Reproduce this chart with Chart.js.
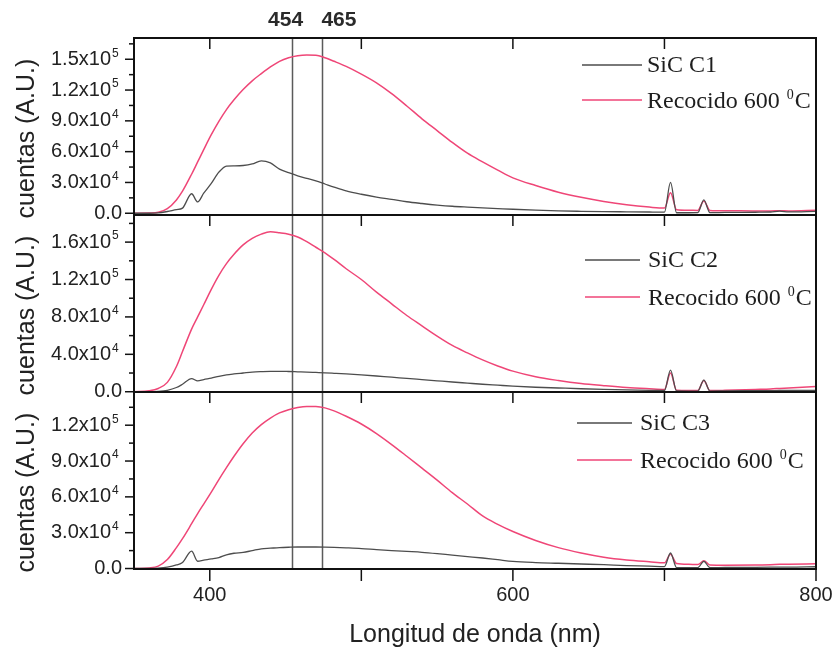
<!DOCTYPE html>
<html><head><meta charset="utf-8">
<script src="https://cdn.jsdelivr.net/npm/chart.js@4.4.0/dist/chart.umd.min.js"></script>
<style>html,body{margin:0;padding:0;background:#fff;}#wrap{position:relative;width:835px;height:653px;}</style>
</head><body><div id="wrap"><canvas id="c" width="835" height="653"></canvas></div>
<script>
// ---------- DATA ----------
const wavelength = [350,360,366,372,378,382,388,392,396,401,406,411,416,422,428,434,440,446,452,458,464,470,476,482,490,500,510,520,530,540,550,560,570,580,590,600,615,630,645,660,675,690,700,704,708,716,722,726,730,740,760,770,776,782,800];

const sicC1 = [0,0,300,1700,3500,5000,19000,11000,19500,29000,40000,46000,46200,46500,48000,51000,49000,43000,39500,36500,34000,31500,28500,25500,21800,18500,15800,13500,11200,9500,8000,6800,6000,5300,4600,3900,3000,2300,1900,1600,1400,1200,1100,30000,500,500,600,13000,600,800,1000,1200,2000,1300,1800];
const recocido1 = [0,200,900,4500,13000,21500,38000,50000,62000,76500,89500,101000,110500,120500,129000,136000,142500,148000,151500,153500,154200,154000,151500,148000,143000,135500,127000,116500,104500,92000,80500,69000,58500,50000,42000,34500,27000,20500,15500,11500,8300,6000,5000,20000,3500,3000,2800,12000,2800,2500,2200,2200,2500,2300,3000];

const sicC2 = [0,0,300,1500,4500,8000,14000,11500,13000,14500,16500,18000,19000,20000,21000,21500,21800,21800,21600,21300,21000,20600,20200,19700,19000,18000,16800,15500,14300,13000,11700,10400,9200,8000,7000,6000,4800,4000,3200,2500,1900,1500,1300,23000,800,700,700,12500,700,900,1100,1200,1300,1300,1500];
const recocido2 = [0,1000,3500,10000,27000,43000,67000,80000,93000,109500,124500,137000,147000,157000,164000,168500,171000,170000,168500,165500,160500,154500,148500,141500,131500,120000,106500,94000,81500,70500,59500,49500,41500,34000,27500,22000,16000,12000,8800,6500,4500,3200,2500,20000,1500,1200,1200,12000,1200,1500,2500,3000,3500,4000,5500];

const sicC3 = [0,0,300,1200,3000,5000,14500,6100,7000,8000,9200,11500,12800,13500,15000,16500,17000,17500,17800,18000,18000,18000,17900,17700,17300,16700,15800,15000,14300,13600,12500,11200,10000,8800,7400,6000,5000,4400,3800,3200,2500,2000,1600,13000,800,700,700,6000,700,900,1000,1100,1200,1200,1500];
const recocido3 = [0,500,2000,7500,17500,25000,37500,46000,54000,64000,74500,84500,94000,104500,113500,120500,126000,130300,133000,134800,135700,135600,134500,132000,127500,121000,113000,103800,94000,84000,74000,63500,54000,44000,37000,31000,23500,17500,13000,9500,7200,5700,4800,12000,4200,3500,3300,6500,3000,2800,2900,3200,3500,3600,4000];

const sampleNames = ['SiC C1','SiC C2','SiC C3'];
const annealName = 'Recocido 600 ';
const annealSup = '0';
const annealUnit = 'C';

const yTicks1 = [0,30000,60000,90000,120000,150000];
const yTicks2 = [0,40000,80000,120000,160000];
const yTicks3 = [0,30000,60000,90000,120000];
const xTickValues = [400,500,600,700,800];
const xTickLabels = [400,600,800];
const markerPositions = [454,474];
const markerLabels = ['454','465'];

const yTitle = 'cuentas (A.U.)';
const xTitle = 'Longitud de onda (nm)';

// ---------- STYLE ----------
const GRAY = '#4d4d4d';
const PINK = '#ef4677';
const SANS = 'Liberation Sans, Arial, sans-serif';
const SERIF = 'Liberation Serif, Times New Roman, serif';

const pts = arr => wavelength.map((w,i)=>({x:w,y:arr[i]}));

const panels = [
  {id:'yA', ticks:yTicks1, minor:15000, name:sampleNames[0], leg:{x1:582,x2:642,tx:647,dy1:27,dy2:62}},
  {id:'yB', ticks:yTicks2, minor:20000, name:sampleNames[1], leg:{x1:585,x2:640,tx:648,dy1:45,dy2:82}},
  {id:'yC', ticks:yTicks3, minor:15000, name:sampleNames[2], leg:{x1:577,x2:632,tx:640,dy1:31,dy2:68}}
];

function hiddenY(min,max){
  return {type:'linear', stack:'panels', stackWeight:1, position:'left', min, max,
    ticks:{display:false}, grid:{display:false, drawTicks:false}, border:{display:false},
    afterFit: s => { s.width = 134; }};
}

const frame = {
  id:'frame',
  beforeDatasetsDraw(chart){
    const ctx = chart.ctx, ca = chart.chartArea, xs = chart.scales.x;
    ctx.save();
    ctx.strokeStyle = '#5a5a5a'; ctx.lineWidth = 1.5;
    markerPositions.forEach(v=>{
      const px = Math.round(xs.getPixelForValue(v))+0.5;
      ctx.beginPath(); ctx.moveTo(px, ca.top); ctx.lineTo(px, ca.bottom); ctx.stroke();
    });
    ctx.restore();
  },
  afterDraw(chart){
    const ctx = chart.ctx, ca = chart.chartArea, xs = chart.scales.x;
    ctx.save();
    ctx.fillStyle = '#2a2a2a'; ctx.font = 'bold 21px '+SANS; ctx.textBaseline = 'middle'; ctx.textAlign = 'center';
    const m0 = xs.getPixelForValue(markerPositions[0]);
    const m1 = xs.getPixelForValue(markerPositions[1]);
    ctx.fillText(markerLabels[0], m0-6, 20);
    ctx.fillText(markerLabels[1], m1+17, 20);

    panels.forEach((p,pi)=>{
      const s = chart.scales[p.id];
      const top = s.top, bot = s.bottom;
      ctx.strokeStyle = '#111'; ctx.lineWidth = 2;
      ctx.strokeRect(ca.left, top, ca.right-ca.left, bot-top);
      ctx.lineWidth = 1.5;
      xTickValues.forEach(v=>{
        const px = xs.getPixelForValue(v);
        ctx.beginPath(); ctx.moveTo(px, top); ctx.lineTo(px, top+11); ctx.stroke();
        if (pi===panels.length-1){
          ctx.beginPath(); ctx.moveTo(px, bot); ctx.lineTo(px, bot+12); ctx.stroke();
        }
      });
      const start = Math.ceil(s.min/p.minor)*p.minor;
      for(let v=start; v<=s.max; v+=p.minor){
        const py = s.getPixelForValue(v);
        const len = p.ticks.includes(v) ? 9 : 5;
        ctx.beginPath(); ctx.moveTo(ca.left-len, py); ctx.lineTo(ca.left, py); ctx.stroke();
      }
      ctx.fillStyle = '#222'; ctx.textBaseline = 'middle';
      p.ticks.forEach(v=>{
        const py = s.getPixelForValue(v);
        if(v===0){
          ctx.font = '20px '+SANS; ctx.textAlign='right';
          ctx.fillText('0.0', 122, py);
        } else {
          const e = Math.floor(Math.log10(v));
          const m = (v/Math.pow(10,e)).toFixed(1);
          ctx.font = '20px '+SANS; ctx.textAlign='right';
          ctx.fillText(m+'x10', 111, py);
          ctx.font = '12px '+SANS; ctx.textAlign='left';
          ctx.fillText(String(e), 112, py-6);
        }
      });
      ctx.save();
      ctx.translate(27, (top+bot)/2 + 12);
      ctx.rotate(-Math.PI/2);
      ctx.font = '25px '+SANS; ctx.textAlign='center'; ctx.textBaseline='middle'; ctx.fillStyle='#222';
      ctx.fillText(yTitle, 0, 0);
      ctx.restore();
      const L = p.leg;
      const y1 = top + L.dy1, y2 = top + L.dy2;
      ctx.lineWidth = 1.5;
      ctx.strokeStyle = GRAY; ctx.beginPath(); ctx.moveTo(L.x1,y1); ctx.lineTo(L.x2,y1); ctx.stroke();
      ctx.strokeStyle = PINK; ctx.beginPath(); ctx.moveTo(L.x1,y2); ctx.lineTo(L.x2,y2); ctx.stroke();
      ctx.fillStyle = '#1e1e1e'; ctx.textAlign='left'; ctx.textBaseline='middle';
      ctx.font = '24px '+SERIF;
      ctx.fillText(p.name, L.tx, y1+1);
      ctx.fillText(annealName, L.tx, y2+2);
      let xx = L.tx + ctx.measureText(annealName).width + 1;
      ctx.font = '14px '+SERIF;
      ctx.fillText(annealSup, xx, y2-5);
      xx += ctx.measureText(annealSup).width + 1;
      ctx.font = '24px '+SERIF;
      ctx.fillText(annealUnit, xx, y2+2);
    });
    ctx.restore();
  }
};

const ds = (label, arr, axis, color, w) => ({label, data: pts(arr), yAxisID: axis, borderColor: color, backgroundColor: color, borderWidth: w, pointRadius: 0, fill: false, cubicInterpolationMode: 'monotone'});

new Chart(document.getElementById('c'), {
  type: 'line',
  data: {
    datasets: [
      ds(sampleNames[0], sicC1, 'yA', GRAY, 1.3),
      ds(sampleNames[1], sicC2, 'yB', GRAY, 1.3),
      ds(sampleNames[2], sicC3, 'yC', GRAY, 1.3),
      ds('Recocido 600 0C (1)', recocido1, 'yA', PINK, 1.5),
      ds('Recocido 600 0C (2)', recocido2, 'yB', PINK, 1.5),
      ds('Recocido 600 0C (3)', recocido3, 'yC', PINK, 1.5)
    ]
  },
  options: {
    responsive: false, animation: false, devicePixelRatio: 1,
    layout: {padding: {top: 38, right: 19, left: 0, bottom: 0}},
    plugins: {legend: {display: false}, tooltip: {enabled: false}},
    scales: {
      x: {type: 'linear', min: 350, max: 800,
        afterBuildTicks: s => { s.ticks = xTickValues.map(v => ({value: v})); },
        ticks: {callback: v => xTickLabels.includes(v) ? String(v) : '', font: {family: SANS, size: 20}, color: '#222', padding: 14, maxRotation: 0, autoSkip: false},
        grid: {display: false, drawTicks: false}, border: {display: false},
        title: {display: true, text: xTitle, font: {family: SANS, size: 25}, color: '#222', padding: {top: 4, bottom: 3}},
        afterFit: s => { s.height = 84; s.paddingLeft = 0; s.paddingRight = 0; }
      },
      yC: hiddenY(-400, 147800),
      yB: hiddenY(-300, 189000),
      yA: hiddenY(-1700, 170700)
    }
  },
  plugins: [frame]
});
</script>
</body></html>
